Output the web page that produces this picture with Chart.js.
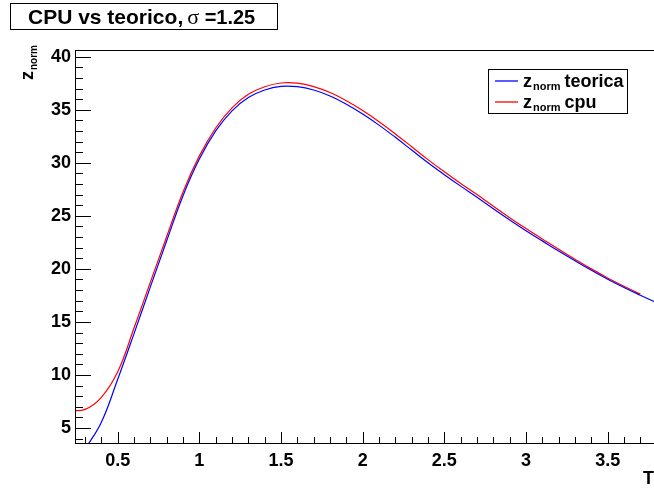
<!DOCTYPE html>
<html><head><meta charset="utf-8">
<script src="https://cdn.jsdelivr.net/npm/chart.js@4/dist/chart.umd.min.js"></script>
<style>html,body{margin:0;padding:0;background:#fff;overflow:hidden;width:654px;height:488px}
#wrap{position:absolute;left:0;top:0;width:656px;height:488px}</style>
</head><body><div id="wrap"><canvas id="c" width="656" height="488"></canvas></div>
<script>
const titleMain = "CPU vs teorico,";
const titleSigma = "\u03c3";
const titleValue = " =1.25";
const seriesNames = ["teorica", "cpu"];
const xTitle = "T";
const yTitleMain = "z";
const yTitleSub = "norm";

const tTeorica = [0.3,0.4,0.5,0.6,0.7,0.8,0.9,1.0,1.1,1.2,1.3,1.4,1.5,1.6,1.7,1.8,1.9,2.0,2.1,2.2,2.3,2.4,2.5,2.6,2.7,2.8,2.9,3.0,3.1,3.2,3.3,3.4,3.5,3.6,3.7,3.8];
const zTeorica = [3.0,5.55,9.6,13.9,18.3,22.65,26.9,30.35,33.0,34.9,36.15,36.86,37.2,37.17,36.86,36.3,35.52,34.6,33.55,32.4,31.2,30.0,28.88,27.8,26.75,25.66,24.61,23.6,22.64,21.68,20.76,19.87,19.03,18.25,17.52,16.81];

const tCpu = [0.2,0.3,0.4,0.5,0.6,0.7,0.8,0.9,1.0,1.1,1.2,1.3,1.4,1.5,1.6,1.7,1.8,1.9,2.0,2.1,2.2,2.3,2.4,2.5,2.6,2.7,2.8,2.9,3.0,3.1,3.2,3.3,3.4,3.5,3.6,3.7];
const zCpu = [6.64,6.76,7.9,10.3,14.43,18.75,23.05,27.25,30.65,33.28,35.18,36.45,37.17,37.52,37.5,37.18,36.62,35.84,34.92,33.87,32.72,31.52,30.3,29.15,28.05,27.0,25.9,24.83,23.8,22.82,21.85,20.91,20.0,19.15,18.36,17.62];

const xMin = 0.2385, xMax = 3.796, yMin = 3.59, yMax = 40.63;

const FONT = "'Liberation Sans', Arial, Helvetica, sans-serif";

function pts(ts, zs){ return ts.map((t,i)=>({x:t, y:zs[i]})); }

function drawSubText(ctx, x, base, main, sub, rest, size, subSize, drop){
  ctx.font = "bold " + size + "px " + FONT;
  ctx.fillText(main, x, base);
  x += ctx.measureText(main).width + 1;
  ctx.font = "bold " + subSize + "px " + FONT;
  ctx.fillText(sub, x, base + drop);
  x += ctx.measureText(sub).width;
  if (rest) {
    ctx.font = "bold " + size + "px " + FONT;
    ctx.fillText(rest, x + 4, base);
  }
}

const deco = {
  id: 'deco',
  afterDraw(chart){
    const ctx = chart.ctx, a = chart.chartArea, xs = chart.scales.x, ys = chart.scales.y;
    ctx.save();
    ctx.strokeStyle = '#000'; ctx.lineWidth = 1;
    ctx.strokeRect(Math.round(a.left)+0.5, Math.round(a.top)+0.5, a.right-a.left, a.bottom-a.top);
    ctx.beginPath();
    for (let v = Math.ceil(ys.min); v <= ys.max; v++){
      const py = Math.round(ys.getPixelForValue(v)) + 0.5;
      const L = (v % 5 === 0) ? 16 : 8;
      ctx.moveTo(a.left, py); ctx.lineTo(a.left + L, py);
    }
    for (let i = Math.ceil(xs.min*10); i <= xs.max*10; i++){
      const px = Math.round(xs.getPixelForValue(i/10)) + 0.5;
      const L = (i % 5 === 0) ? 11 : 6;
      ctx.moveTo(px, a.bottom); ctx.lineTo(px, a.bottom - L);
    }
    ctx.stroke();

    // title box
    ctx.fillStyle = '#fff';
    ctx.fillRect(10, 3, 267, 26);
    ctx.strokeRect(10.5, 3.5, 267, 26);
    ctx.fillStyle = '#000';
    ctx.textBaseline = 'alphabetic'; ctx.textAlign = 'left';
    let tx = 28;
    ctx.font = "bold 21px " + FONT;
    ctx.fillText(titleMain, tx, 24);
    tx += ctx.measureText(titleMain).width + 4;
    ctx.font = "22px 'Liberation Serif', 'DejaVu Serif', serif";
    ctx.fillText(titleSigma, tx, 24);
    tx += ctx.measureText(titleSigma).width;
    ctx.font = "bold 20px " + FONT;
    ctx.fillText(titleValue, tx, 24);

    // legend
    ctx.fillStyle = '#fff';
    ctx.fillRect(488, 69, 139, 44);
    ctx.strokeRect(488.5, 69.5, 139, 44);
    const ds = chart.data.datasets;
    const rows = [81, 102];
    rows.forEach((ry, i) => {
      ctx.strokeStyle = ds[i].borderColor; ctx.lineWidth = 1.3;
      ctx.beginPath(); ctx.moveTo(495, ry); ctx.lineTo(518, ry); ctx.stroke();
      ctx.fillStyle = '#000';
      drawSubText(ctx, 523, ry + 5.5, 'z', 'norm', seriesNames[i], 18, 11, 3.5);
    });

    // y axis title (rotated)
    ctx.save();
    ctx.translate(33, 80);
    ctx.rotate(-Math.PI/2);
    ctx.fillStyle = '#000';
    drawSubText(ctx, 0, 0, yTitleMain, yTitleSub, null, 18, 10, 3.5);
    ctx.restore();

    // x axis title
    ctx.fillStyle = '#000';
    ctx.font = "bold 18px " + FONT;
    ctx.textAlign = 'right';
    ctx.fillText(xTitle, 654, 484);
    ctx.restore();
  }
};

const fmt = v => String(Math.round(v * 100) / 100);

new Chart(document.getElementById('c'), {
  type: 'line',
  data: {
    datasets: [
      { label: 'teorica', data: pts(tTeorica, zTeorica), borderColor: '#0000ff', borderWidth: 1.2, pointRadius: 0, tension: 0.4, fill: false },
      { label: 'cpu', data: pts(tCpu, zCpu), borderColor: '#ff0000', borderWidth: 1.2, pointRadius: 0, tension: 0.4, fill: false }
    ]
  },
  options: {
    responsive: false,
    animation: false,
    events: [],
    layout: { padding: { top: 50, left: 0, right: 0, bottom: 0 } },
    plugins: { legend: { display: false }, title: { display: false }, tooltip: { enabled: false } },
    scales: {
      x: {
        type: 'linear', min: xMin, max: xMax,
        afterFit(s){ s.height = 45; },
        grid: { display: true, drawOnChartArea: false, drawTicks: false },
        border: { display: true, color: '#000', width: 1 },
        ticks: { stepSize: 0.5, includeBounds: false, padding: 7, color: '#000', maxRotation: 0, autoSkip: false,
          callback: fmt,
          font: { family: FONT, size: 18, weight: 'bold' } }
      },
      y: {
        type: 'linear', min: yMin, max: yMax,
        afterFit(s){ s.width = 75; },
        grid: { display: true, drawOnChartArea: false, drawTicks: false },
        border: { display: true, color: '#000', width: 1 },
        ticks: { stepSize: 5, includeBounds: false, padding: 4, color: '#000', autoSkip: false,
          callback: fmt,
          font: { family: FONT, size: 18, weight: 'bold' } }
      }
    }
  },
  plugins: [deco]
});
</script>
</body></html>
